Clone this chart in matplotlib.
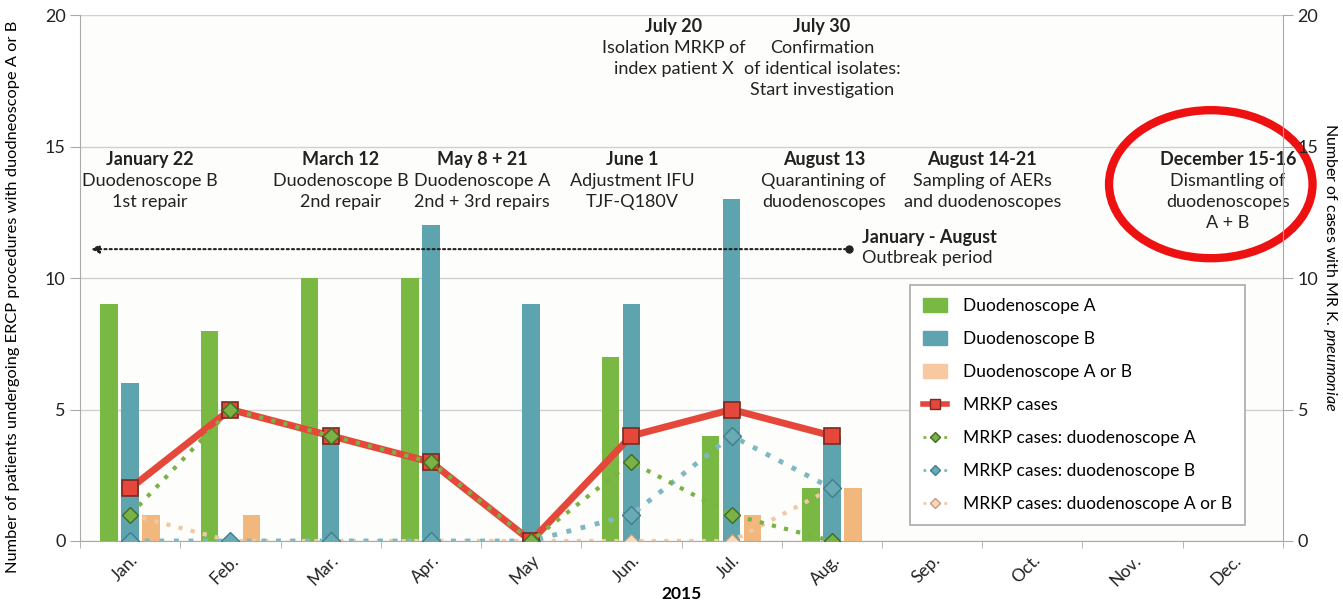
import numpy as np
import matplotlib.pyplot as plt
from matplotlib.patches import Ellipse, Patch
from matplotlib.lines import Line2D

plt.rcParams['font.family'] = ['Lato', 'DejaVu Sans']
plt.rcParams['mathtext.fontset'] = 'custom'
plt.rcParams['mathtext.rm'] = 'Lato'
plt.rcParams['mathtext.it'] = 'Lato:italic'

months = ['Jan.', 'Feb.', 'Mar.', 'Apr.', 'May', 'Jun.', 'Jul.', 'Aug.',
          'Sep.', 'Oct.', 'Nov.', 'Dec.']

# patients per month (Jan - Aug)
scope_a = [9, 8, 10, 10, 0, 7, 4, 2]
scope_b = [6, 0, 4, 12, 9, 9, 13, 4]
scope_ab = [1, 1, 0, 0, 0, 0, 1, 2]

# MRKP cases per month
mrkp_total = [2, 5, 4, 3, 0, 4, 5, 4]
mrkp_a = [1, 5, 4, 3, 0, 3, 1, 0]
mrkp_b = [0, 0, 0, 0, 0, 1, 4, 2]
mrkp_ab = [1, 0, 0, 0, 0, 0, 0, 2]

GREEN = '#78b843'
BLUE = '#5ea4ae'
ORANGE = '#f2b77c'
RED = '#e5483a'

fig = plt.figure(figsize=(13.43, 6.05), dpi=100)
fig.patch.set_facecolor('white')
ax = fig.add_axes([0.0596, 0.1058, 0.8957, 0.8692])
ax.set_facecolor('#fdfdfb')

x = np.arange(len(scope_a))
w = 0.175
ax.bar(x - 0.21, scope_a, w, color=GREEN, zorder=2)
ax.bar(x, scope_b, w, color=BLUE, zorder=2)
ax.bar(x + 0.21, scope_ab, w, color=ORANGE, zorder=2)

ax.plot(x, mrkp_ab, linestyle=(0, (1, 2)), color='#f0c9a4', lw=3, marker='D',
        ms=7, mfc='#f7d9bd', mec='#c99a78', mew=0.8, zorder=3)
ax.plot(x, mrkp_b, linestyle=(0, (1, 2)), color='#7fb8c2', lw=3.5, marker='D',
        ms=9, mfc='#6aaab5', mec='#3e7f8c', mew=1, zorder=4)
ax.plot(x, mrkp_total, color=RED, lw=5, marker='s', ms=11, mfc=RED,
        mec='#7a2a22', mew=1.2, zorder=5)
ax.plot(x, mrkp_a, linestyle=(0, (1, 2)), color='#7ab245', lw=3, marker='D',
        ms=8, mfc='#7ab245', mec='#3f6b22', mew=1, zorder=6)

ax.set_xlim(-0.5, 11.5)
ax.set_ylim(0, 20)
ax.set_yticks([0, 5, 10, 15, 20])
ax.set_xticks(np.arange(12))
ax.set_xticklabels(months, rotation=45, ha='right', rotation_mode='anchor',
                   fontsize=12.5, color='#222222')
ax.set_xticks(np.arange(-0.5, 12, 1), minor=True)
ax.tick_params(axis='x', which='major', length=0, pad=8)
ax.tick_params(axis='x', which='minor', length=5, color='#aaaaaa')
ax.tick_params(axis='y', length=7, color='#aaaaaa', labelsize=13,
               labelcolor='#222222')
ax.grid(axis='y', color='#d0d0d0', lw=1, zorder=0)
for s in ['top', 'right']:
    ax.spines[s].set_visible(False)
ax.spines['left'].set_color('#aaaaaa')
ax.spines['bottom'].set_color('#aaaaaa')

ax2 = ax.twinx()
ax2.set_ylim(0, 20)
ax2.set_yticks([0, 5, 10, 15, 20])
ax2.tick_params(axis='y', length=7, color='#aaaaaa', labelsize=13,
                labelcolor='#222222')
for s in ['top', 'left', 'bottom']:
    ax2.spines[s].set_visible(False)
ax2.spines['right'].set_color('#aaaaaa')
ax2.set_ylabel(r'Number of cases with MR K. $\it{pneumoniae}$', rotation=270,
               fontsize=11.5, va='center')
ax2.yaxis.set_label_coords(1.0395, 0.52)

ax.set_ylabel('Number of patients undergoing ERCP procedures with duodneoscope A or B',
              fontsize=11.8)
ax.yaxis.set_label_coords(-0.05, 0.465)
ax.set_xlabel('2015', fontsize=12.5, fontweight='bold', labelpad=-2)

# timeline annotations
events = [
    (0.2, 14.85, 'January 22', 'Duodenoscope B\n1st repair'),
    (2.1, 14.85, 'March 12', 'Duodenoscope B\n2nd repair'),
    (3.51, 14.85, 'May 8 + 21', 'Duodenoscope A\n2nd + 3rd repairs'),
    (5.01, 14.85, 'June 1', 'Adjustment IFU\nTJF-Q180V'),
    (5.42, 19.9, 'July 20', 'Isolation MRKP of\nindex patient X'),
    (6.9, 19.9, 'July 30', 'Confirmation\nof identical isolates:\nStart investigation'),
    (6.92, 14.85, 'August 13', 'Quarantining of\nduodenoscopes'),
    (8.5, 14.85, 'August 14-21', 'Sampling of AERs\nand duodenoscopes'),
    (10.95, 14.85, 'December 15-16', 'Dismantling of\nduodenoscopes\nA + B'),
]
for ex, ey, head, body in events:
    ax.text(ex, ey, head, ha='center', va='top', fontsize=13,
            fontweight='bold', color='#222222', zorder=7)
    ax.text(ex, ey - 0.84, body, ha='center', va='top', fontsize=13,
            color='#222222', linespacing=1.38, zorder=7)

# outbreak period arrow
ax.annotate('', xy=(-0.42, 11.1), xytext=(7.17, 11.1),
            arrowprops=dict(arrowstyle='-|>', linestyle=(0, (1, 1.5)),
                            color='#222222', lw=1.5, mutation_scale=12),
            zorder=7)
ax.plot([7.17], [11.1], 'o', color='#222222', ms=5, zorder=7)
ax.text(7.3, 11.55, 'January - August', fontsize=13, fontweight='bold',
        va='center', color='#222222')
ax.text(7.3, 10.75, 'Outbreak period', fontsize=13, va='center',
        color='#222222')

# highlight circle
ax.add_patch(Ellipse((10.78, 13.57), 2.03, 5.63, fill=False, ec='#ee1111',
                     lw=6, clip_on=False, zorder=8))

handles = [
    Patch(color=GREEN, label='Duodenoscope A'),
    Patch(color=BLUE, label='Duodenoscope B'),
    Patch(color='#f8c9a0', label='Duodenoscope A or B'),
    Line2D([], [], color=RED, lw=4, marker='s', ms=7, mfc=RED,
           mec='#7a2a22', label='MRKP cases'),
    Line2D([], [], color='#7ab245', lw=2, ls=(0, (1, 1.5)), marker='D', ms=5,
           mfc='#7ab245', mec='#3f6b22', label='MRKP cases: duodenoscope A'),
    Line2D([], [], color='#7fb8c2', lw=2, ls=(0, (1, 1.5)), marker='D', ms=5,
           mfc='#6aaab5', mec='#3e7f8c', label='MRKP cases: duodenoscope B'),
    Line2D([], [], color='#f0c9a4', lw=2, ls=(0, (1, 1.5)), marker='D', ms=5,
           mfc='#f7d9bd', mec='#c99a78', label='MRKP cases: duodenoscope A or B'),
]
leg = ax2.legend(handles=handles, loc='upper left', bbox_to_anchor=(0.69, 0.487),
                 fontsize=12.5, frameon=True, fancybox=False, framealpha=1,
                 edgecolor='#aaaaaa', labelspacing=0.98, handlelength=1.4,
                 handleheight=0.8, borderpad=0.75, handletextpad=0.9,
                 borderaxespad=0)
leg.get_frame().set_linewidth(1.2)
leg.set_zorder(10)

fig.savefig('out.png', dpi=100)
